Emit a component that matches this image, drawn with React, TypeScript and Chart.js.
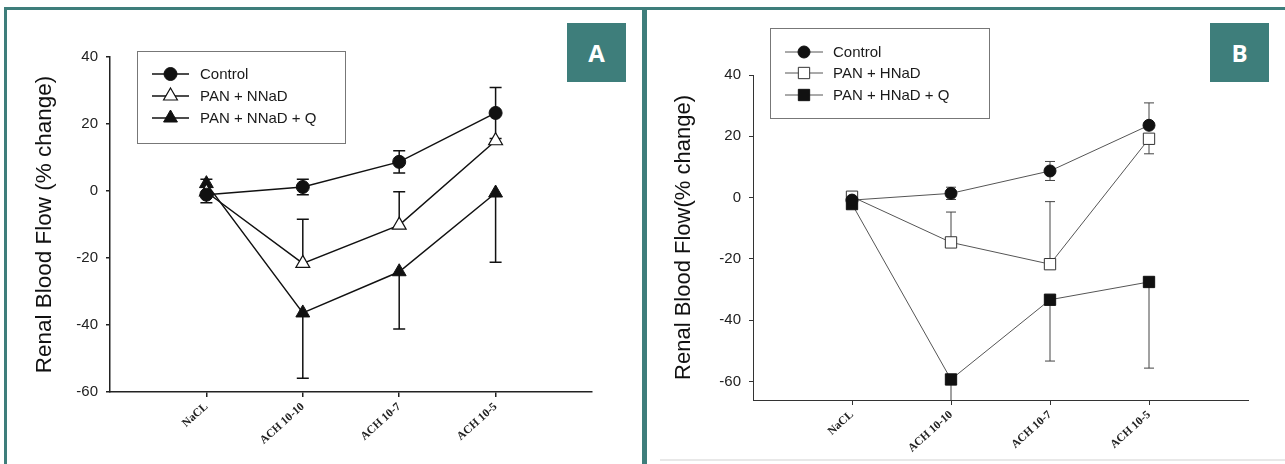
import React, { useEffect, useRef } from 'react';
import { Chart, registerables } from 'chart.js';

Chart.register(...registerables);

// ---------- data ----------
const categories = ['NaCL', 'ACH 10-10', 'ACH 10-7', 'ACH 10-5'];
const yTicksA = [-60, -40, -20, 0, 20, 40];
const yTicksB = [-60, -40, -20, 0, 20, 40];

// Panel A
const controlA = [-1.1, 1.2, 8.7, 23.3];
const controlAUp = [2.4, 2.3, 3.3, 7.6];
const controlADown = [2.4, 2.3, 3.3, 7.6];
const nnadA = [-0.3, -21.6, -10.2, 15.0];
const nnadAUp = [0, 13.2, 10.0, 0];
const nnadADown = [0, 0, 0, 0];
const nnadQA = [2.2, -36.4, -24.1, -0.6];
const nnadQAUp = [1.3, 0, 0, 0];
const nnadQADown = [0, 19.5, 17.1, 20.7];

// Panel B
const controlB = [-0.8, 1.4, 8.7, 23.6];
const controlBUp = [0, 2.0, 3.1, 7.3];
const controlBDown = [0, 2.0, 3.1, 0];
const hnadB = [0.3, -14.6, -21.7, 19.2];
const hnadBUp = [0, 9.9, 20.4, 0];
const hnadBDown = [0, 0, 0, 4.9];
const hnadQB = [-2.1, -59.3, -33.3, -27.5];
const hnadQBUp = [0, 0, 0, 0];
const hnadQBDown = [0, 10, 20, 28.1];

const TEAL = '#3e7e7b';

function drawMarker(ctx: CanvasRenderingContext2D, style: string, x: number, y: number, r: number, fill: string, stroke: string, lw: number) {
  ctx.beginPath();
  if (style === 'circle') {
    ctx.arc(x, y, r, 0, Math.PI * 2);
  } else if (style === 'triangle') {
    let rad = 0;
    ctx.moveTo(x + Math.sin(rad) * r, y - Math.cos(rad) * r);
    rad += (2 * Math.PI) / 3;
    ctx.lineTo(x + Math.sin(rad) * r, y - Math.cos(rad) * r);
    rad += (2 * Math.PI) / 3;
    ctx.lineTo(x + Math.sin(rad) * r, y - Math.cos(rad) * r);
    ctx.closePath();
  } else {
    const s = r * Math.SQRT1_2;
    ctx.rect(x - s, y - s, 2 * s, 2 * s);
  }
  ctx.fillStyle = fill;
  ctx.fill();
  ctx.strokeStyle = stroke;
  ctx.lineWidth = lw;
  ctx.stroke();
}

const errorBarPlugin = {
  id: 'errorBars',
  beforeDatasetsDraw(chart: any, _args: any, opts: any) {
    const ctx = chart.ctx as CanvasRenderingContext2D;
    const ys = chart.scales.y;
    const area = chart.chartArea;
    ctx.save();
    ctx.beginPath();
    ctx.rect(area.left, area.top - 30, area.right - area.left, area.bottom - area.top + 30);
    ctx.clip();
    ctx.strokeStyle = opts.color;
    ctx.lineWidth = opts.width;
    (opts.series || []).forEach((s: any, i: number) => {
      const meta = chart.getDatasetMeta(i);
      const ds = chart.data.datasets[i];
      meta.data.forEach((pt: any, j: number) => {
        const v = ds.data[j].y;
        const ends: number[] = [];
        if (s.up[j]) ends.push(v + s.up[j]);
        if (s.down[j]) ends.push(v - s.down[j]);
        ends.forEach((e) => {
          const py = ys.getPixelForValue(e);
          ctx.beginPath();
          ctx.moveTo(pt.x, pt.y);
          ctx.lineTo(pt.x, py);
          ctx.moveTo(pt.x - opts.cap, py);
          ctx.lineTo(pt.x + opts.cap, py);
          ctx.stroke();
        });
      });
    });
    ctx.restore();
  },
};

const boxLegendPlugin = {
  id: 'boxLegend',
  afterDraw(chart: any, _args: any, o: any) {
    const ctx = chart.ctx as CanvasRenderingContext2D;
    ctx.save();
    ctx.strokeStyle = o.boxColor;
    ctx.lineWidth = 1;
    ctx.strokeRect(o.x + 0.5, o.y + 0.5, o.w, o.h);
    chart.data.datasets.forEach((ds: any, i: number) => {
      const ry = o.rows[i];
      ctx.beginPath();
      ctx.strokeStyle = ds.borderColor;
      ctx.lineWidth = ds.borderWidth;
      ctx.moveTo(o.x1, ry);
      ctx.lineTo(o.x2, ry);
      ctx.stroke();
      drawMarker(ctx, ds.pointStyle, (o.x1 + o.x2) / 2, ry, ds.pointRadius * o.scale, ds.pointBackgroundColor, ds.pointBorderColor, ds.pointBorderWidth);
      ctx.fillStyle = '#1a1a1a';
      ctx.font = o.font;
      ctx.textBaseline = 'middle';
      ctx.textAlign = 'left';
      ctx.fillText(ds.label, o.tx, ry + 1);
    });
    ctx.restore();
  },
};

function toPts(vals: number[]) {
  return categories.map((_, i) => ({ x: i + 1, y: vals[i] }));
}

function makeConfig(p: any) {
  return {
    type: 'line',
    data: { datasets: p.datasets },
    options: {
      animation: false,
      responsive: false,
      events: [],
      layout: { padding: p.padding },
      plugins: {
        legend: { display: false },
        tooltip: { enabled: false },
        errorBars: p.errorBars,
        boxLegend: p.legend,
      },
      scales: {
        x: {
          type: 'linear',
          min: 0,
          max: 5,
          afterBuildTicks: (s: any) => {
            s.ticks = categories.map((_, i) => ({ value: i + 1 }));
          },
          afterFit: (s: any) => {
            s.height = p.xHeight;
          },
          ticks: {
            autoSkip: false,
            minRotation: 42,
            maxRotation: 42,
            padding: 3,
            color: '#222',
            font: { family: 'Liberation Serif', size: 11.5, weight: 'bold' },
            callback: (v: number) => categories[v - 1] ?? '',
          },
          grid: { drawOnChartArea: false, tickLength: 5, color: p.axisColor, lineWidth: p.axisWidth },
          border: { display: true, color: p.axisColor, width: p.axisWidth },
        },
        y: {
          type: 'linear',
          min: p.yMin,
          max: p.yMax,
          afterBuildTicks: (s: any) => {
            s.ticks = p.yTicks.map((v: number) => ({ value: v }));
          },
          afterFit: (s: any) => {
            s.width = p.yWidth;
          },
          ticks: {
            padding: 8,
            color: '#222',
            font: { family: 'Liberation Sans', size: 15 },
          },
          grid: { drawOnChartArea: false, tickLength: 4, color: p.axisColor, lineWidth: p.axisWidth },
          border: { display: true, color: p.axisColor, width: p.axisWidth },
          title: {
            display: true,
            text: p.yTitle,
            color: '#111',
            font: { family: 'Liberation Sans', size: p.titleSize },
            padding: { top: p.titlePad, bottom: 0 },
          },
        },
      },
    },
    plugins: [errorBarPlugin, boxLegendPlugin],
  };
}

const configA = () =>
  makeConfig({
    padding: { top: 57, left: 20, right: 50, bottom: 0 },
    xHeight: 72,
    yWidth: 90,
    titlePad: 11,
    titleSize: 22.5,
    yMin: -60,
    yMax: 40,
    yTicks: yTicksA,
    yTitle: 'Renal Blood Flow (% change)',
    axisColor: '#222',
    axisWidth: 1.5,
    errorBars: {
      color: '#111',
      width: 1.5,
      cap: 6,
      series: [
        { up: controlAUp, down: controlADown },
        { up: nnadAUp, down: nnadADown },
        { up: nnadQAUp, down: nnadQADown },
      ],
    },
    legend: { x: 137, y: 51, w: 208, h: 92, rows: [74, 96, 118], x1: 152, x2: 189, tx: 200, scale: 1, boxColor: '#777', font: '15px "Liberation Sans"' },
    datasets: [
      { label: 'Control', data: toPts(controlA), borderColor: '#111', borderWidth: 1.5, pointStyle: 'circle', pointRadius: 6.5, pointBackgroundColor: '#111', pointBorderColor: '#111', pointBorderWidth: 1, tension: 0 },
      { label: 'PAN + NNaD', data: toPts(nnadA), borderColor: '#111', borderWidth: 1.5, pointStyle: 'triangle', pointRadius: 8, pointBackgroundColor: '#fff', pointBorderColor: '#111', pointBorderWidth: 1.2, tension: 0 },
      { label: 'PAN + NNaD + Q', data: toPts(nnadQA), borderColor: '#111', borderWidth: 1.5, pointStyle: 'triangle', pointRadius: 8, pointBackgroundColor: '#111', pointBorderColor: '#111', pointBorderWidth: 1, tension: 0 },
    ],
  });

const configB = () =>
  makeConfig({
    padding: { top: 75, left: 12, right: 37, bottom: 0 },
    xHeight: 64,
    yWidth: 94,
    titlePad: 12,
    titleSize: 22,
    yMin: -66,
    yMax: 40,
    yTicks: yTicksB,
    yTitle: 'Renal Blood Flow(% change)',
    axisColor: '#333',
    axisWidth: 1,
    errorBars: {
      color: '#444',
      width: 1,
      cap: 5,
      series: [
        { up: controlBUp, down: controlBDown },
        { up: hnadBUp, down: hnadBDown },
        { up: hnadQBUp, down: hnadQBDown },
      ],
    },
    legend: { x: 123, y: 28, w: 219, h: 90, rows: [52, 73, 95], x1: 138, x2: 176, tx: 186, scale: 1, boxColor: '#777', font: '15px "Liberation Sans"' },
    datasets: [
      { label: 'Control', data: toPts(controlB), borderColor: '#555', borderWidth: 1, pointStyle: 'circle', pointRadius: 6, pointBackgroundColor: '#111', pointBorderColor: '#111', pointBorderWidth: 1, tension: 0 },
      { label: 'PAN + HNaD', data: toPts(hnadB), borderColor: '#555', borderWidth: 1, pointStyle: 'rect', pointRadius: 8, pointBackgroundColor: '#fff', pointBorderColor: '#333', pointBorderWidth: 1, tension: 0 },
      { label: 'PAN + HNaD + Q', data: toPts(hnadQB), borderColor: '#555', borderWidth: 1, pointStyle: 'rect', pointRadius: 8, pointBackgroundColor: '#111', pointBorderColor: '#111', pointBorderWidth: 1, tension: 0 },
    ],
  });

function ChartCanvas({ make, left, width }: { make: () => any; left: number; width: number }) {
  const ref = useRef<HTMLCanvasElement | null>(null);
  useEffect(() => {
    if (!ref.current) return;
    const chart = new Chart(ref.current, make());
    return () => chart.destroy();
  }, []);
  return (
    <canvas
      ref={ref}
      width={width}
      height={464}
      style={{ position: 'absolute', left, top: 0, width, height: 464 }}
    />
  );
}

const labelBox = (text: string, left: number) => (
  <div
    style={{
      position: 'absolute',
      left,
      top: 23,
      width: 59,
      height: 59,
      background: TEAL,
      color: '#fff',
      fontFamily: '"Open Sans", "Liberation Sans", sans-serif',
      fontWeight: 700,
      fontSize: 24,
      display: 'flex',
      alignItems: 'center',
      justifyContent: 'center',
    }}
  >
    {text}
  </div>
);

export default function App() {
  return (
    <div style={{ position: 'fixed', left: 0, top: 0, width: 1285, height: 464, background: '#fff', overflow: 'hidden' }}>
      <ChartCanvas make={configA} left={0} width={642} />
      <ChartCanvas make={configB} left={647} width={638} />
      {/* panel frames */}
      <div style={{ position: 'absolute', left: 4, top: 7, width: 1281, height: 3, background: TEAL }} />
      <div style={{ position: 'absolute', left: 4, top: 7, width: 3, height: 457, background: TEAL }} />
      <div style={{ position: 'absolute', left: 642, top: 7, width: 5, height: 457, background: TEAL }} />
      <div style={{ position: 'absolute', left: 660, top: 459, width: 625, height: 2, background: '#e8e8e8' }} />
      {labelBox('A', 567)}
      {labelBox('B', 1210)}
    </div>
  );
}
